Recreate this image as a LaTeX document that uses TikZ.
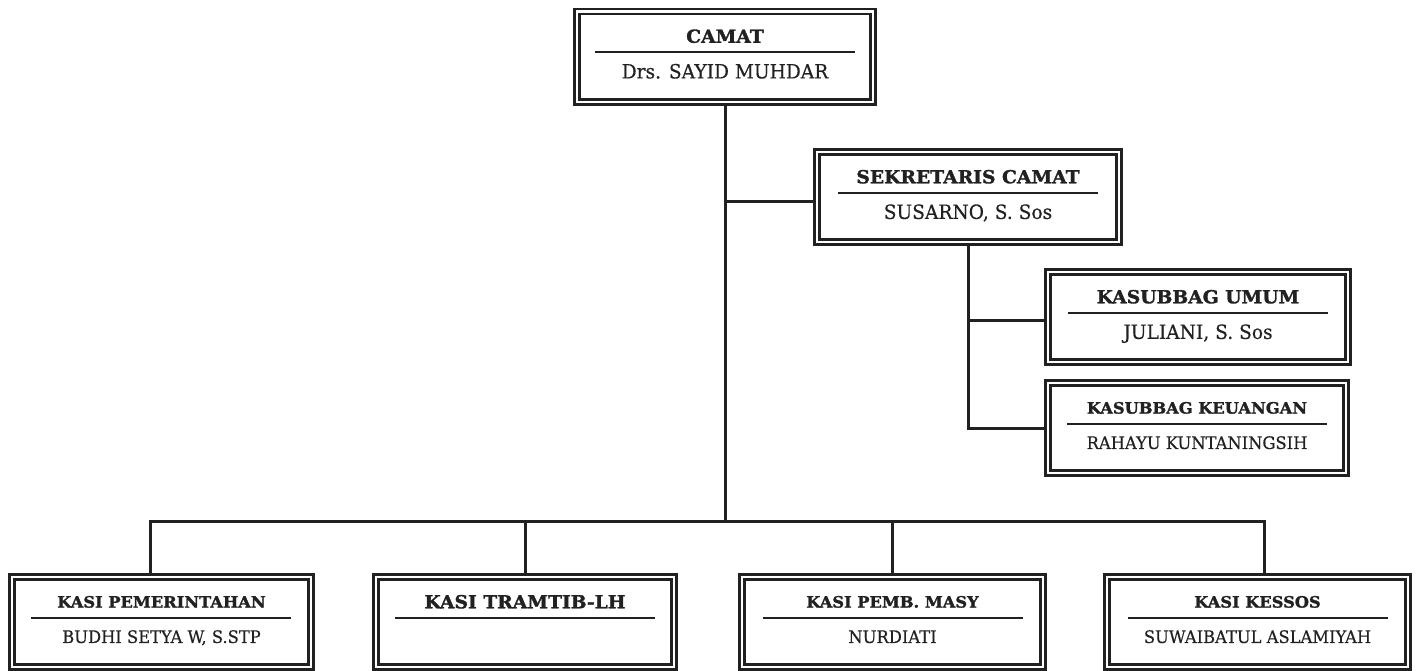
\documentclass[tikz,border=0pt]{standalone}
\usepackage{fontspec}
\usepackage{xcolor}
\usepackage{tikz}
\usetikzlibrary{positioning}

\newfontfamily\fjudul[FakeStretch=1.04, FakeBold=1.6]{DejaVu Serif Bold}
\newfontfamily\fnama[FakeStretch=0.95, FakeBold=0.5]{DejaVu Serif}
\definecolor{tinta}{gray}{0.13}

% isi kotak: jabatan, garis, nama pejabat
\newcommand{\jabA}[2]{\vbox{%
  \hbox to 130pt{\hss\raisebox{0pt}[4.1pt][0pt]{\fjudul\fontsize{9}{10}\selectfont #1}\hss}%
  \kern4.3pt\hrule height 1pt\kern12.5pt
  \hbox to 130pt{\hss\raisebox{0pt}[0pt][0pt]{\fnama\fontsize{9.8}{11}\selectfont #2}\hss}}}
\newcommand{\jabB}[2]{\vbox{%
  \hbox to 130pt{\hss\raisebox{0pt}[3.25pt][0pt]{\fjudul\fontsize{7.8}{9}\selectfont #1}\hss}%
  \kern4.7pt\hrule height 1pt\kern12pt
  \hbox to 130pt{\hss\raisebox{0pt}[0pt][0pt]{\fnama\fontsize{8.6}{10}\selectfont #2}\hss}}}

\begin{document}
\begin{tikzpicture}[
      x=0.5pt, y=-0.5pt,
      kotak/.style={draw=tinta, double=white, double distance=1.1pt, line width=1.4pt,
        inner sep=0pt, outer sep=1.95pt, minimum height=45.1pt, minimum width=#1, text=tinta},
      garis/.style={draw=tinta, line width=1.5pt}
    ]
    \useasboundingbox (0,0) rectangle (1418,670);

    % Camat dan sekretariat
    \node[kotak=148.1pt] (cam) at (725,56.5) {\jabA{CAMAT}{Drs. SAYID MUHDAR}};
    \node[kotak=151.1pt] (sek) at (968,197) {\jabA{SEKRETARIS CAMAT}{SUSARNO, S. Sos}};
    \node[kotak=150.1pt] (umum) at (1198,317) {\jabA{KASUBBAG UMUM}{JULIANI, S. Sos}};
    \node[kotak=149.1pt] (keu) at (1197,428) {\jabB{KASUBBAG KEUANGAN}{RAHAYU KUNTANINGSIH}};

    % Kepala seksi
    \node[kotak=149.6pt] (pem) at (161.5,622) {\jabB{KASI PEMERINTAHAN}{BUDHI SETYA W, S.STP}};
    \node[kotak=149.1pt] (tram) at (525,622) {\jabA{KASI TRAMTIB-LH}{}};
    \node[kotak=150.6pt] (pmb) at (892.5,622) {\jabB{KASI PEMB. MASY}{NURDIATI}};
    \node[kotak=150.6pt] (kes) at (1257.5,622) {\jabB{KASI KESSOS}{SUWAIBATUL ASLAMIYAH}};

    % Garis komando
    \coordinate (bus) at (725,521);
    \draw[garis] (cam.south) -- (cam.south |- bus);
    \draw[garis] (cam.south |- sek.west) ++(0,4) -- ([yshift=-2pt]sek.west);
    \draw[garis] (sek.south) |- (keu.west);
    \draw[garis] (sek.south |- umum.west) ++(0,3) -- ([yshift=-1.5pt]umum.west);
    \draw[garis] ([xshift=-5.75pt]pem.north) |- ([xshift=3.25pt]kes.north |- bus) -- ([xshift=3.25pt]kes.north);
    \foreach \n in {tram,pmb} \draw[garis] (\n.north) -- (\n.north |- bus);
  \end{tikzpicture}
\end{document}
